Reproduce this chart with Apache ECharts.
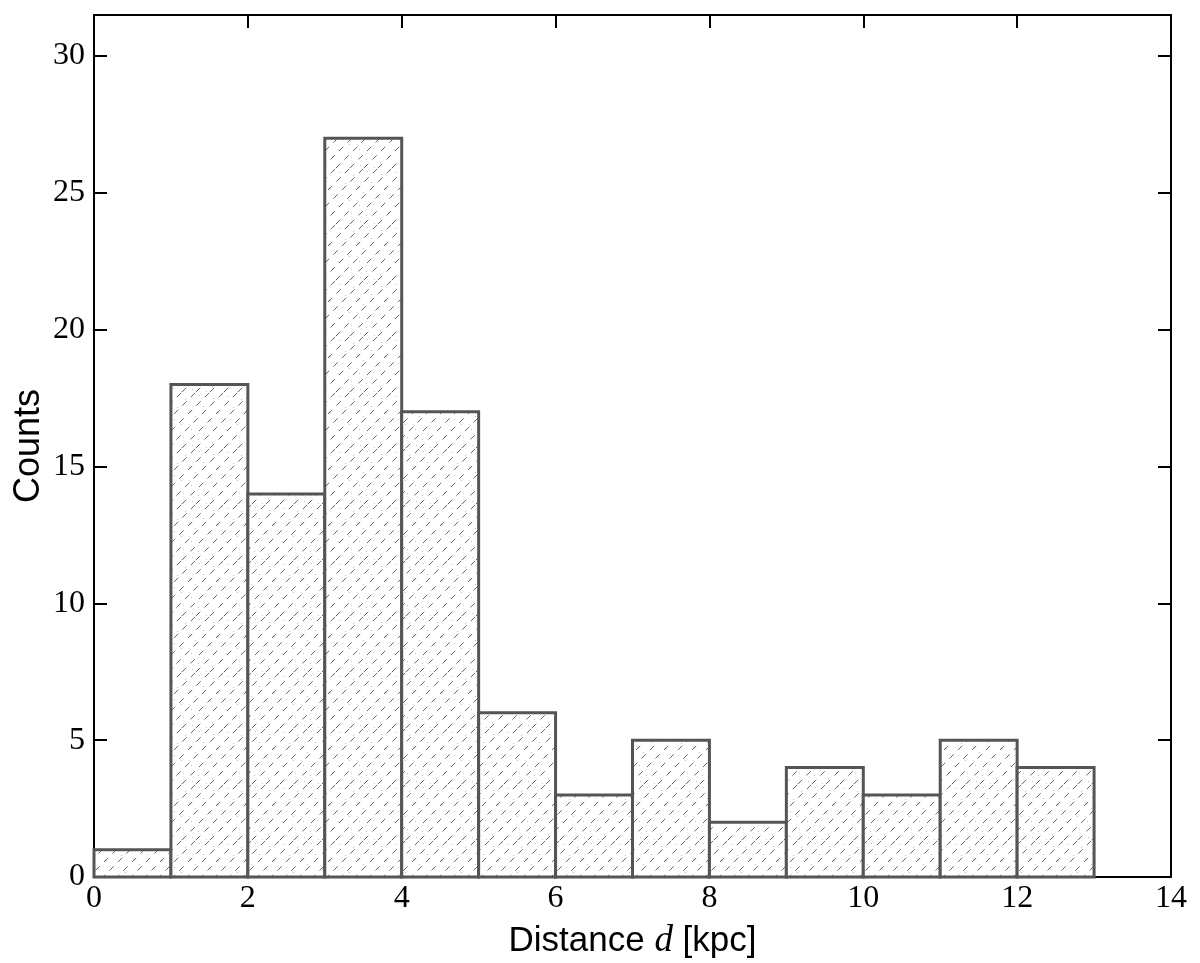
<!DOCTYPE html>
<html>
<head>
<meta charset="utf-8">
<script src="https://cdn.jsdelivr.net/npm/echarts@6/dist/echarts.min.js"></script>
<style>
  html, body { margin: 0; padding: 0; background: #fff; }
  #chart { width: 1200px; height: 963px; }
</style>
</head>
<body>
<div id="chart"></div>
<script>
  // histogram bins (left edge, width 1 kpc) and counts
  var binStart = [0, 1, 2, 3, 4, 5, 6, 7, 8, 9, 10, 11, 12]
  var binWidth = 1
  var counts = [1, 18, 14, 27, 17, 6, 3, 5, 2, 4, 3, 5, 4]
  var xTicks = [0, 2, 4, 6, 8, 10, 12, 14]
  var yTicks = [0, 5, 10, 15, 20, 25, 30]

  // hatch fill: dashed diagonal lines plus scattered dots
  function makeHatch () {
    var n = 56
    var c = document.createElement('canvas')
    c.width = n
    c.height = n
    var ctx = c.getContext('2d')
    ctx.fillStyle = '#fff'
    ctx.fillRect(0, 0, n, n)
    ctx.strokeStyle = '#555'
    ctx.lineWidth = 0.9
    ctx.setLineDash([6, 6])
    for (var k = -n; k <= 2 * n; k += 14) {
      ctx.beginPath()
      ctx.moveTo(k, n)
      ctx.lineTo(k + n, 0)
      ctx.stroke()
    }
    ctx.fillStyle = '#bbb'
    var dots = [[3, 4], [17, 7], [9, 15], [21, 19], [6, 27], [13, 32], [31, 3], [35, 14], [27, 24], [37, 36], [23, 37], [2, 37],
      [45, 6], [50, 20], [42, 29], [52, 44], [44, 50], [30, 47], [15, 45], [5, 52], [24, 53], [38, 55]]
    dots.forEach(function (d) { ctx.fillRect(d[0], d[1], 1, 1) })
    return c
  }

  var seriesData = binStart.map(function (x, i) { return [x, x + binWidth, counts[i]] })
  var hatch = makeHatch()

  var chart = echarts.init(document.getElementById('chart'))
  var tickFont = { fontFamily: 'Liberation Serif', fontSize: 32, color: '#000' }
  var option = {
    animation: false,
    grid: { left: 94, top: 15, right: 29, bottom: 86, containLabel: false, outerBoundsMode: 'none' },
    xAxis: [
      {
        type: 'value', min: 0, max: 14, interval: 2, position: 'bottom',
        axisLine: { onZero: false, lineStyle: { color: '#000', width: 2 } },
        axisTick: { inside: true, length: 13, lineStyle: { color: '#000', width: 2 } },
        axisLabel: Object.assign({ margin: 6, formatter: function (v) { return xTicks.indexOf(v) >= 0 ? v : '' } }, tickFont),
        splitLine: { show: false },
        name: '{s|Distance }{i|d}{s| [kpc]}',
        nameLocation: 'middle',
        nameGap: 46,
        nameTextStyle: {
          rich: {
            s: { fontFamily: 'Liberation Sans', fontSize: 35, color: '#000' },
            i: { fontFamily: 'Liberation Serif', fontStyle: 'italic', fontSize: 37, color: '#000' }
          }
        }
      },
      {
        type: 'value', min: 0, max: 14, interval: 2, position: 'top',
        axisLine: { onZero: false, lineStyle: { color: '#000', width: 2 } },
        axisTick: { inside: true, length: 13, lineStyle: { color: '#000', width: 2 } },
        axisLabel: { show: false },
        splitLine: { show: false }
      }
    ],
    yAxis: [
      {
        type: 'value', min: 0, max: 31.5, interval: 5, position: 'left',
        axisLine: { show: true, onZero: false, lineStyle: { color: '#000', width: 2 } },
        axisTick: { show: true, inside: true, length: 13, lineStyle: { color: '#000', width: 2 } },
        axisLabel: Object.assign({ margin: 9, showMaxLabel: false, formatter: function (v) { return yTicks.indexOf(v) >= 0 ? v : '' } }, tickFont),
        splitLine: { show: false },
        name: 'Counts',
        nameLocation: 'middle',
        nameGap: 47,
        nameMoveOverlap: false,
        nameTextStyle: { fontFamily: 'Liberation Sans', fontSize: 36, color: '#000' }
      },
      {
        type: 'value', min: 0, max: 31.5, interval: 5, position: 'right',
        axisLine: { show: true, onZero: false, lineStyle: { color: '#000', width: 2 } },
        axisTick: { show: true, inside: true, length: 13, lineStyle: { color: '#000', width: 2 } },
        axisLabel: { show: false },
        splitLine: { show: false }
      }
    ],
    series: [{
      type: 'custom',
      xAxisIndex: 0,
      yAxisIndex: 0,
      data: seriesData,
      renderItem: function (params, api) {
        var p0 = api.coord([api.value(0), api.value(2)])
        var p1 = api.coord([api.value(1), 0])
        return {
          type: 'rect',
          shape: { x: p0[0], y: p0[1], width: p1[0] - p0[0], height: p1[1] - p0[1] },
          style: {
            fill: { image: hatch, repeat: 'repeat' },
            stroke: '#555',
            lineWidth: 3
          }
        }
      }
    }]
  }
  chart.setOption(option)
</script>
</body>
</html>
